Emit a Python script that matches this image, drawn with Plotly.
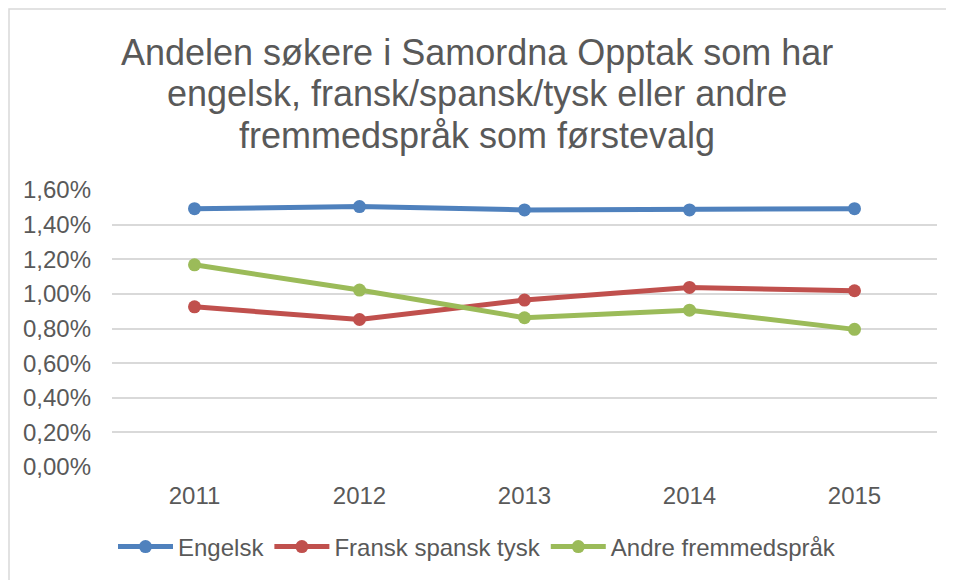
import plotly.graph_objects as go

years = ["2011", "2012", "2013", "2014", "2015"]
engelsk = [0.01492, 0.01504, 0.01485, 0.01485, 0.01492]
fransk = [0.00925, 0.00852, 0.00964, 0.01037, 0.01018]
andre = [0.01168, 0.01022, 0.00862, 0.00906, 0.00795]
names = ["Engelsk", "Fransk spansk tysk", "Andre fremmedspråk"]
colors = ["#4f81bd", "#c0504d", "#9bbb59"]
tickvals = [0, 0.002, 0.004, 0.006, 0.008, 0.010, 0.012, 0.014, 0.016]
title_lines = [
    "Andelen søkere i Samordna Opptak som har",
    "engelsk, fransk/spansk/tysk eller andre",
    "fremmedspråk som førstevalg",
]

fig = go.Figure()
for name, vals, col in zip(names, [engelsk, fransk, andre], colors):
    fig.add_trace(go.Scatter(
        x=years, y=vals, name=name, mode="lines+markers",
        line=dict(color=col, width=5),
        marker=dict(color=col, size=13),
    ))

# page body has an 8px margin; figure sized so it ends at the window edge
W, H = 946, 572
ml, mr, mt, mb = 104, 17, 182, 113
pw, ph = W - ml - mr, H - mt - mb

FONT = "Liberation Sans, Arial, sans-serif"
GREY = "#595959"
TS = 36
TX = (477 - 8 - ml) / pw  # title centred on the whole chart

annotations = []
for i, line in enumerate(title_lines):
    cy = 44 + 42 * i  # centre of line, in figure pixels from top
    annotations.append(dict(
        text=line, showarrow=False,
        xref="paper", yref="paper", x=TX, xanchor="center",
        y=1 + (mt - cy) / ph, yanchor="middle",
        font=dict(family=FONT, size=TS, color=GREY),
    ))

fig.update_layout(
    width=W, height=H,
    margin=dict(l=ml, r=mr, t=mt, b=mb),
    paper_bgcolor="white", plot_bgcolor="white",
    separators=", ",
    font=dict(family=FONT, color=GREY, size=24),
    xaxis=dict(
        type="category", range=[-0.5, 4.5],
        showgrid=False, zeroline=False, showline=False,
        ticks="", tickfont=dict(size=24, color=GREY),
        ticklabelstandoff=12,
    ),
    yaxis=dict(
        range=[0, 0.016], tickvals=tickvals, tickformat=".2%",
        showgrid=True, gridcolor="#d9d9d9", gridwidth=1.5,
        zeroline=False, showline=False, ticks="",
        tickfont=dict(size=24, color=GREY),
        ticklabelstandoff=20,
    ),
    legend=dict(
        orientation="h", x=TX, xanchor="center", xref="paper",
        y=1 - 539 / H, yanchor="middle", yref="container",
        font=dict(size=24, color=GREY),
        itemwidth=55,
    ),
    annotations=annotations,
    shapes=[dict(
        type="rect", xref="paper", yref="paper",
        x0=-(ml - 1) / pw, x1=1 + (mr + 20) / pw,
        y0=-(mb + 20) / ph, y1=1 + (mt - 1) / ph,
        line=dict(color="#d9d9d9", width=1.5), layer="below",
    )],
)

fig.write_html("out.html")
